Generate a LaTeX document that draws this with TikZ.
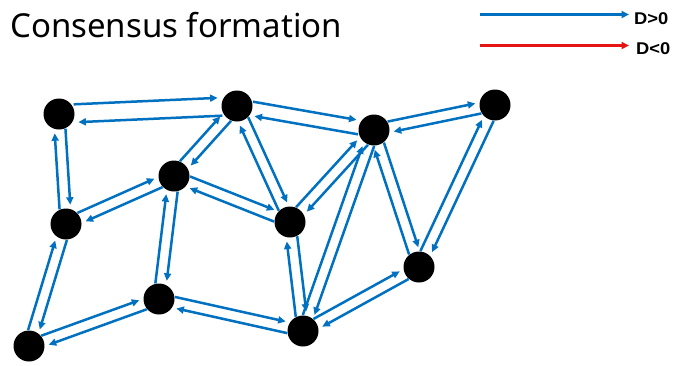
\documentclass[tikz,border=0pt]{standalone}
\usepackage{fontspec}
\setmainfont{Noto Sans}
\newfontfamily\legfont{Liberation Sans}
\usetikzlibrary{calc,arrows.meta}
\definecolor{lblue}{RGB}{0,112,192}
\definecolor{lred}{RGB}{232,20,20}
\tikzset{
  dot/.style={circle,fill=black,minimum size=31pt,inner sep=0pt},
  link/.style={draw=lblue,line width=2.5pt,-{Triangle[length=7.5pt,width=7pt]},shorten <=15pt,shorten >=19pt},
  legline/.style={line width=2.5pt,-{Triangle[length=7.5pt,width=7pt]}},
  legtext/.style={inner sep=0pt,anchor=west}
}
\newcommand\legtxt[1]{{\legfont\bfseries\fontsize{17}{20}\selectfont\scalebox{1.08}[1]{#1}}}
\newcommand\biedge[3][5.5pt]{%
  \draw[link] ($(#2.center)!#1!90:(#3.center)$) -- ($(#3.center)!#1!-90:(#2.center)$);
  \draw[link] ($(#3.center)!#1!90:(#2.center)$) -- ($(#2.center)!#1!-90:(#3.center)$);
}
\begin{document}
\begin{tikzpicture}[x=1pt,y=-1pt]
\useasboundingbox (0,0) rectangle (675,365);
\node[anchor=base west,inner sep=0pt,font=\fontsize{33}{38}\selectfont] (title) at (10,37) {Consensus formation};
% legend
\coordinate (l1a) at (480,14.5);
\coordinate (l1b) at (629,14.5);
\coordinate (l2a) at (480,45.5);
\coordinate (l2b) at (629,45.5);
\draw[legline,draw=lblue] (l1a) -- (l1b);
\draw[legline,draw=lred] (l2a) -- (l2b);
\node[legtext] (dpos) at (634,18.5) {\legtxt{D>0}};
\node[legtext] (dneg) at (636,49) {\legtxt{D<0}};
% nodes
\node[dot] (A) at (59,114) {};
\node[dot] (B) at (237,106) {};
\node[dot] (C) at (374,130) {};
\node[dot] (D) at (495,105) {};
\node[dot] (E) at (174,176) {};
\node[dot] (F) at (66,224) {};
\node[dot] (G) at (290,222) {};
\node[dot] (H) at (419,267) {};
\node[dot] (I) at (159,299) {};
\node[dot] (J) at (303,331) {};
\node[dot] (K) at (29,346) {};
% edges
\biedge[9pt]{A}{B}
\biedge{A}{F}
\biedge[7pt]{B}{C}
\biedge{B}{E}
\biedge{B}{G}
\biedge{C}{D}
\biedge{C}{G}
\biedge{C}{H}
\biedge{C}{J}
\biedge{D}{H}
\biedge{E}{F}
\biedge{E}{G}
\biedge{E}{I}
\biedge{F}{K}
\biedge{I}{K}
\biedge{I}{J}
\biedge{G}{J}
\biedge{H}{J}
\end{tikzpicture}
\end{document}
